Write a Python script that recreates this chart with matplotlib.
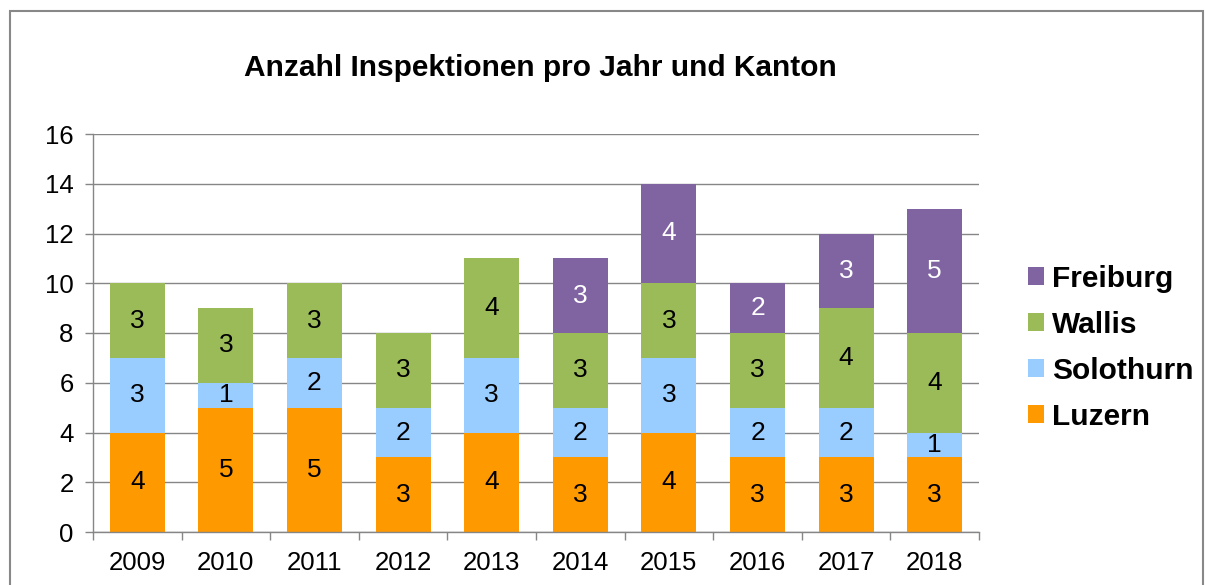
import matplotlib
matplotlib.use("Agg")
import matplotlib.pyplot as plt
import numpy as np
from matplotlib.patches import Rectangle, Patch

plt.rcParams['font.family'] = ['Liberation Sans', 'DejaVu Sans']

years = ['2009', '2010', '2011', '2012', '2013', '2014', '2015', '2016', '2017', '2018']
luzern = [4, 5, 5, 3, 4, 3, 4, 3, 3, 3]
solothurn = [3, 1, 2, 2, 3, 2, 3, 2, 2, 1]
wallis = [3, 3, 3, 3, 4, 3, 3, 3, 4, 4]
freiburg = [0, 0, 0, 0, 0, 3, 4, 2, 3, 5]

series = [
    ('Luzern', luzern, '#FF9900', 'black'),
    ('Solothurn', solothurn, '#99CCFF', 'black'),
    ('Wallis', wallis, '#9BBB59', 'black'),
    ('Freiburg', freiburg, '#8064A2', 'white'),
]

W, H = 1205, 585
fig = plt.figure(figsize=(W / 100, H / 100), dpi=100)
ax = fig.add_axes([93 / W, 1 - 532 / H, (979 - 93) / W, (532 - 134) / H])

x = np.arange(len(years))
bottom = np.zeros(len(years))
for name, vals, color, tcolor in series:
    vals = np.array(vals, dtype=float)
    ax.bar(x, vals, 0.62, bottom=bottom, color=color, zorder=2)
    for xi, v, b in zip(x, vals, bottom):
        if v > 0:
            ax.text(xi, b + v / 2, f'{int(v)}', ha='center', va='center',
                    fontsize=19, color=tcolor, zorder=3)
    bottom += vals

gray = '#868686'
ax.set_xlim(-0.5, len(years) - 0.5)
ax.set_ylim(0, 16)
ax.set_yticks(range(0, 17, 2))
ax.yaxis.grid(True, color=gray, linewidth=1, zorder=0)
ax.set_axisbelow(True)
ax.set_xticks(x)
ax.set_xticklabels(years)
ax.set_xticks(np.arange(-0.5, len(years), 1), minor=True)
ax.tick_params(axis='x', which='major', length=0, pad=14, labelsize=18.5)
ax.tick_params(axis='x', which='minor', length=6, color=gray, width=1)
ax.tick_params(axis='y', length=6, color=gray, width=1, pad=8, labelsize=18.5)
for s in ['top', 'right']:
    ax.spines[s].set_visible(False)
for s in ['left', 'bottom']:
    ax.spines[s].set_color(gray)
    ax.spines[s].set_linewidth(1)

fig.text(540 / W, 1 - 68 / H, 'Anzahl Inspektionen pro Jahr und Kanton',
         ha='center', va='center', fontsize=21.5, fontweight='bold')

handles = [Patch(facecolor=c, edgecolor='none', label=n) for n, _, c, _ in reversed(series)]
leg = fig.legend(handles=handles, loc='upper left',
                 bbox_to_anchor=(1016 / W, 1 - 253 / H), frameon=False,
                 prop={'weight': 'bold', 'size': 21.5},
                 handlelength=0.55, handleheight=0.55, handletextpad=0.25,
                 labelspacing=0.6, borderaxespad=0)

fig.add_artist(Rectangle((10 / W, -0.05), (1203 - 10) / W, 1.05 - 11 / H,
                         transform=fig.transFigure, fill=False,
                         edgecolor='#888888', linewidth=1.5))

fig.savefig('out.png', dpi=100)
